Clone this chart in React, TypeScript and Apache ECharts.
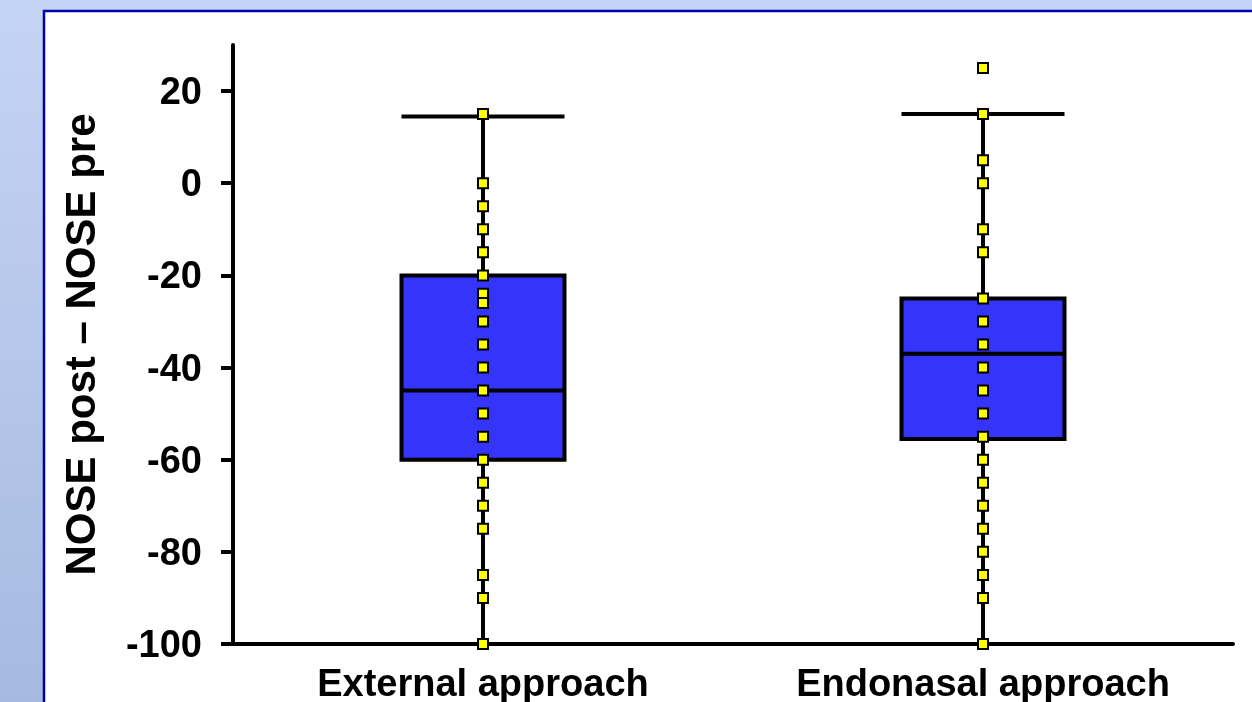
import { useEffect, useRef } from "react";
import * as echarts from "echarts";

const categories = ["External approach", "Endonasal approach"];
// Box statistics per approach: [min, Q1, median, Q3, max]
const externalBox = [-100, -60, -45, -20, 14.5];
const endonasalBox = [-100, -55.5, -37, -25, 15];
// Individual patient differences (NOSE post - NOSE pre)
const externalPoints = [15, 0, -5, -10, -15, -20, -24, -26, -30, -35, -40, -45, -50, -55, -60, -65, -70, -75, -85, -90, -100];
const endonasalPoints = [25, 15, 5, 0, -10, -15, -25, -30, -35, -40, -45, -50, -55, -60, -65, -70, -75, -80, -85, -90, -100];
const yTicks = [-100, -80, -60, -40, -20, 0, 20];
const yTitle = "NOSE post \u2013 NOSE pre";

const FONT = '"Liberation Sans", Arial, Helvetica, sans-serif';

export default function App() {
  const ref = useRef<HTMLDivElement>(null);

  useEffect(() => {
    if (!ref.current) return;
    const chart = echarts.init(ref.current, null, { renderer: "svg" });

    const points = [
      ...externalPoints.map((v) => [0, v]),
      ...endonasalPoints.map((v) => [1, v]),
    ];

    chart.setOption({
      animation: false,
      backgroundColor: "transparent",
      graphic: [
        {
          type: "rect",
          z: -10,
          silent: true,
          shape: { x: 0, y: 0, width: 1252, height: 702 },
          style: {
            fill: new echarts.graphic.LinearGradient(0, 0, 0, 1, [
              { offset: 0, color: "#c4d4f4" },
              { offset: 1, color: "#a6bae0" },
            ]),
          },
        },
        {
          type: "rect",
          z: -9,
          silent: true,
          shape: { x: 44, y: 11, width: 1240, height: 720 },
          style: { fill: "#ffffff", stroke: "#0000a8", lineWidth: 2.5 },
        },
      ],
      grid: { left: 233, top: 45, width: 1000, height: 600, containLabel: false },
      xAxis: {
        type: "category",
        data: categories,
        boundaryGap: true,
        axisLine: { onZero: false, lineStyle: { color: "#000", width: 4 } },
        axisTick: { show: false },
        axisLabel: {
          color: "#000",
          fontFamily: FONT,
          fontWeight: "bold",
          fontSize: 38,
          margin: 20,
        },
        splitLine: { show: false },
      },
      yAxis: {
        type: "value",
        min: -100,
        max: 30,
        interval: 20,
        name: yTitle,
        nameLocation: "middle",
        nameGap: 132,
        nameTextStyle: {
          color: "#000",
          fontFamily: FONT,
          fontWeight: "bold",
          fontSize: 42,
        },
        axisLine: { show: true, onZero: false, lineStyle: { color: "#000", width: 4 } },
        axisTick: {
          show: true,
          length: 12,
          lineStyle: { color: "#000", width: 4 },
          customValues: yTicks,
        },
        axisLabel: {
          color: "#000",
          fontFamily: FONT,
          fontWeight: "bold",
          fontSize: 38,
          margin: 31,
          customValues: yTicks,
        },
        splitLine: { show: false },
      },
      series: [
        {
          type: "boxplot",
          data: [externalBox, endonasalBox],
          boxWidth: [163, 163],
          itemStyle: { color: "#3434fa", borderColor: "#000", borderWidth: 4 },
          z: 2,
        },
        {
          type: "scatter",
          data: points,
          symbol: "rect",
          symbolSize: 10,
          itemStyle: { color: "#ffff00", borderColor: "#000", borderWidth: 2, opacity: 1 },
          z: 5,
        },
      ],
    });

    return () => chart.dispose();
  }, []);

  return (
    <div
      ref={ref}
      style={{ position: "fixed", left: 0, top: 0, width: 1252, height: 702 }}
    />
  );
}
